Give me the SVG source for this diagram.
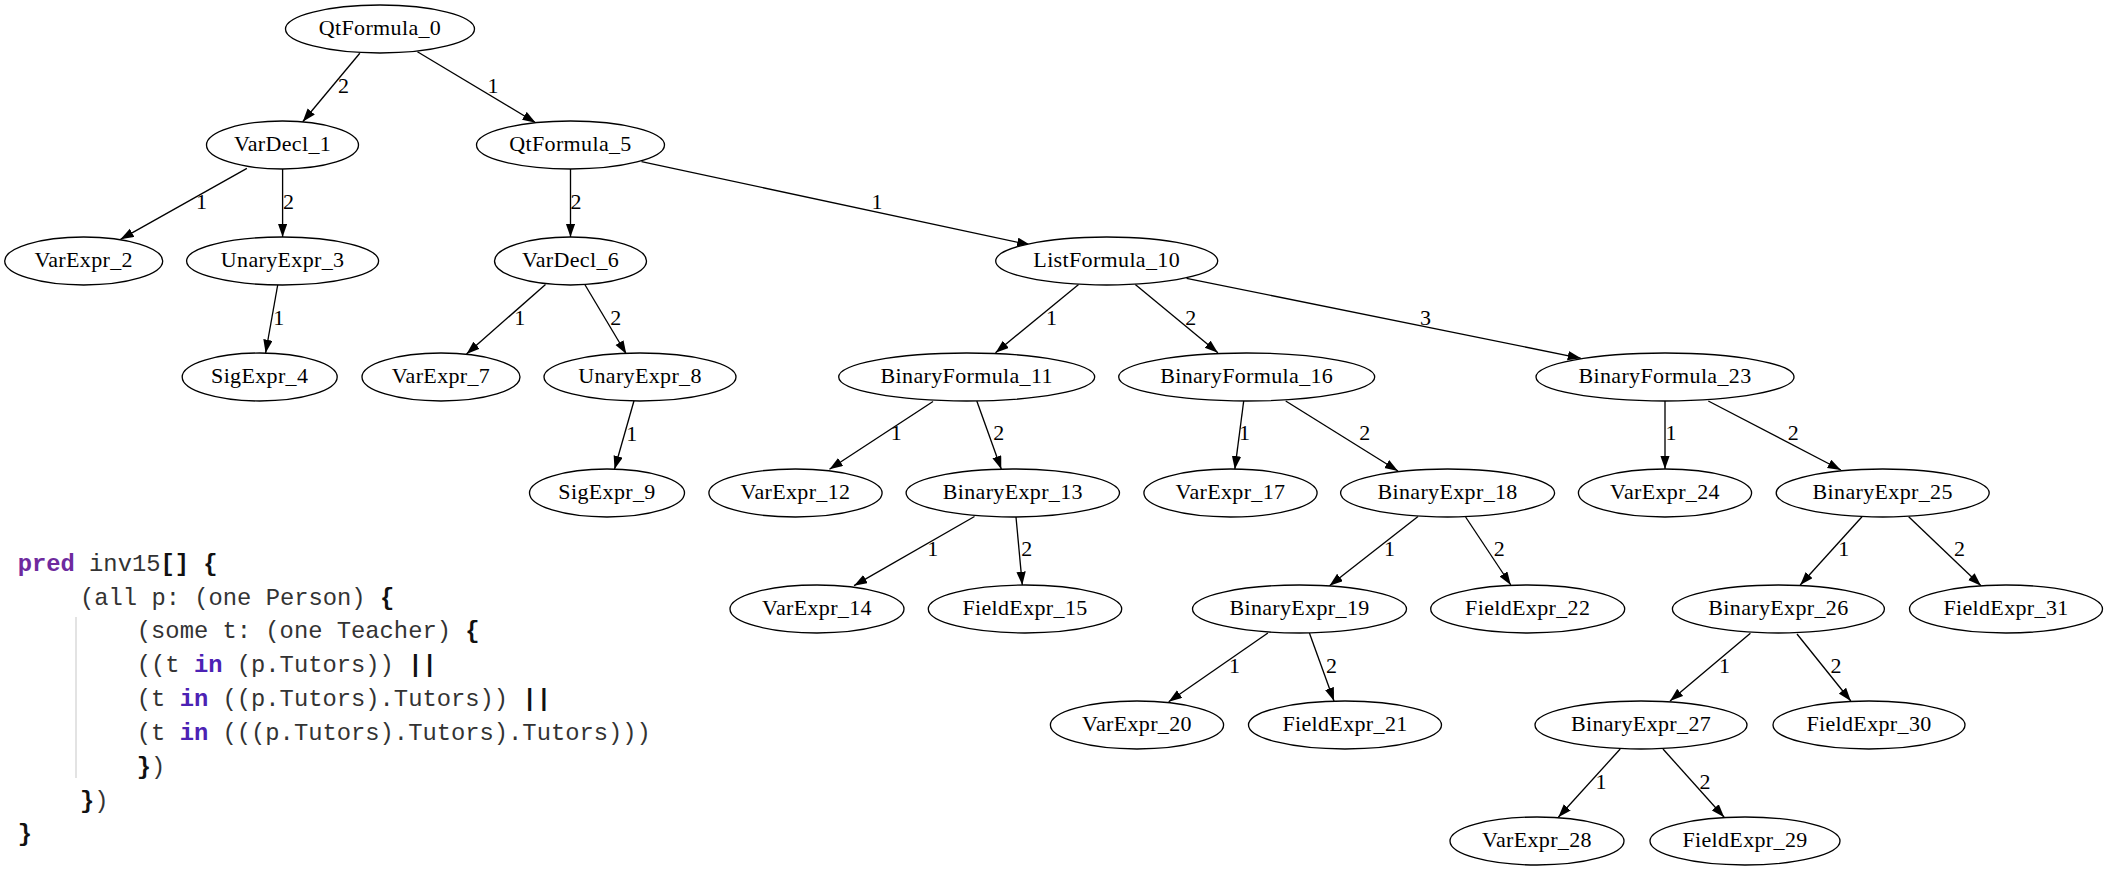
<svg xmlns="http://www.w3.org/2000/svg" width="2109" height="871" viewBox="0 0 2109 871">
<style>
.nd ellipse{fill:#fff;stroke:#000;stroke-width:1.33}
.nd text,.lb{font-family:"Liberation Serif","Times New Roman",serif;font-size:22px;letter-spacing:0.35px;fill:#000;text-anchor:middle}
.ed line{stroke:#000;stroke-width:1.33;marker-end:url(#ah)}
.code{font-family:"Liberation Mono","Courier New",monospace;font-size:23.8px;fill:#333}
.kw1{fill:#6e2a9e;font-weight:bold}
.kw2{fill:#4c22b4;font-weight:bold}
.br{font-weight:bold;fill:#111}
</style>
<defs>
<marker id="ah" markerUnits="userSpaceOnUse" markerWidth="14" markerHeight="10" refX="13.3" refY="4.67" orient="auto">
<path d="M0,0 L13.3,4.67 L0,9.33 z" fill="#000"/>
</marker>
</defs>
<rect width="2109" height="871" fill="#fff"/>
<g id="connectors" class="ed">
<line x1="359.8" y1="53.3" x2="302.7" y2="121.7"/>
<line x1="417.4" y1="51.7" x2="535.7" y2="122.7"/>
<line x1="246.9" y1="168.3" x2="120.5" y2="239.3"/>
<line x1="282.6" y1="169" x2="282.6" y2="237"/>
<line x1="277.7" y1="285" x2="265.6" y2="353"/>
<line x1="570.5" y1="169" x2="570.5" y2="237"/>
<line x1="641.5" y1="161.7" x2="1030.4" y2="245"/>
<line x1="545.5" y1="284.5" x2="466.5" y2="354"/>
<line x1="584.8" y1="284.5" x2="626.3" y2="354"/>
<line x1="1078.6" y1="284.5" x2="995.5" y2="352.7"/>
<line x1="1135.3" y1="284.5" x2="1217.9" y2="352.7"/>
<line x1="1186.6" y1="278.3" x2="1581" y2="358.3"/>
<line x1="634" y1="400.8" x2="614.5" y2="469.3"/>
<line x1="933" y1="401.5" x2="829.5" y2="469.3"/>
<line x1="976.8" y1="401" x2="1001.3" y2="469.3"/>
<line x1="1243.7" y1="401" x2="1234.8" y2="469.3"/>
<line x1="1285.7" y1="401" x2="1398" y2="471"/>
<line x1="974.5" y1="516.5" x2="854" y2="585.7"/>
<line x1="1016" y1="517" x2="1022.3" y2="585"/>
<line x1="1418" y1="516.5" x2="1329.5" y2="585.7"/>
<line x1="1465.6" y1="517" x2="1510.8" y2="585"/>
<line x1="1267.9" y1="633" x2="1168.7" y2="701.7"/>
<line x1="1309.4" y1="633" x2="1334" y2="701"/>
<line x1="1665" y1="401" x2="1665" y2="469"/>
<line x1="1708.3" y1="401" x2="1840.9" y2="470"/>
<line x1="1862" y1="516.7" x2="1800.2" y2="585"/>
<line x1="1908.7" y1="516.7" x2="1981" y2="585.7"/>
<line x1="1750.4" y1="633.3" x2="1670" y2="701"/>
<line x1="1797" y1="634" x2="1850.8" y2="701"/>
<line x1="1620.2" y1="749" x2="1558.3" y2="817.3"/>
<line x1="1663" y1="749" x2="1724.2" y2="817.3"/>
<g class="lbs">
<text class="lb" x="343.7" y="92.7">2</text>
<text class="lb" x="493.3" y="92.7">1</text>
<text class="lb" x="201.8" y="208.7">1</text>
<text class="lb" x="288.8" y="208.7">2</text>
<text class="lb" x="279" y="324.7">1</text>
<text class="lb" x="576.3" y="208.7">2</text>
<text class="lb" x="877.2" y="208.7">1</text>
<text class="lb" x="520" y="324.7">1</text>
<text class="lb" x="616" y="324.7">2</text>
<text class="lb" x="1051.8" y="324.7">1</text>
<text class="lb" x="1191" y="324.7">2</text>
<text class="lb" x="1425.8" y="324.7">3</text>
<text class="lb" x="632" y="441">1</text>
<text class="lb" x="896.4" y="440.3">1</text>
<text class="lb" x="999" y="440.3">2</text>
<text class="lb" x="1244.6" y="440.3">1</text>
<text class="lb" x="1365" y="440.3">2</text>
<text class="lb" x="933" y="556.3">1</text>
<text class="lb" x="1027" y="556.3">2</text>
<text class="lb" x="1389.7" y="556.3">1</text>
<text class="lb" x="1499.5" y="556.3">2</text>
<text class="lb" x="1234.8" y="672.7">1</text>
<text class="lb" x="1331.7" y="672.7">2</text>
<text class="lb" x="1671.3" y="440.3">1</text>
<text class="lb" x="1793.4" y="440.3">2</text>
<text class="lb" x="1844" y="556.3">1</text>
<text class="lb" x="1959.8" y="556.3">2</text>
<text class="lb" x="1724.7" y="672.7">1</text>
<text class="lb" x="1836.3" y="672.7">2</text>
<text class="lb" x="1601.2" y="788.7">1</text>
<text class="lb" x="1705.2" y="788.7">2</text>
</g>
</g>
<g id="QtFormula_0" class="nd"><ellipse cx="380" cy="29" rx="94.5" ry="24"/><text x="380" y="34.5">QtFormula_0</text></g>
<g id="VarDecl_1" class="nd"><ellipse cx="282.5" cy="145" rx="76" ry="24"/><text x="282.5" y="150.5">VarDecl_1</text></g>
<g id="QtFormula_5" class="nd"><ellipse cx="570.5" cy="145" rx="94" ry="24"/><text x="570.5" y="150.5">QtFormula_5</text></g>
<g id="VarExpr_2" class="nd"><ellipse cx="83.7" cy="261" rx="79" ry="24"/><text x="83.7" y="266.5">VarExpr_2</text></g>
<g id="UnaryExpr_3" class="nd"><ellipse cx="282.6" cy="261" rx="96" ry="24"/><text x="282.6" y="266.5">UnaryExpr_3</text></g>
<g id="VarDecl_6" class="nd"><ellipse cx="570.5" cy="261" rx="76" ry="24"/><text x="570.5" y="266.5">VarDecl_6</text></g>
<g id="ListFormula_10" class="nd"><ellipse cx="1106.7" cy="261" rx="111" ry="24"/><text x="1106.7" y="266.5">ListFormula_10</text></g>
<g id="SigExpr_4" class="nd"><ellipse cx="259.7" cy="377" rx="77.5" ry="24"/><text x="259.7" y="382.5">SigExpr_4</text></g>
<g id="VarExpr_7" class="nd"><ellipse cx="441" cy="377" rx="79" ry="24"/><text x="441" y="382.5">VarExpr_7</text></g>
<g id="UnaryExpr_8" class="nd"><ellipse cx="640" cy="377" rx="96" ry="24"/><text x="640" y="382.5">UnaryExpr_8</text></g>
<g id="BinaryFormula_11" class="nd"><ellipse cx="966.7" cy="377" rx="128" ry="24"/><text x="966.7" y="382.5">BinaryFormula_11</text></g>
<g id="BinaryFormula_16" class="nd"><ellipse cx="1246.7" cy="377" rx="128" ry="24"/><text x="1246.7" y="382.5">BinaryFormula_16</text></g>
<g id="BinaryFormula_23" class="nd"><ellipse cx="1665" cy="377" rx="129" ry="24"/><text x="1665" y="382.5">BinaryFormula_23</text></g>
<g id="SigExpr_9" class="nd"><ellipse cx="607" cy="493" rx="77.5" ry="24"/><text x="607" y="498.5">SigExpr_9</text></g>
<g id="VarExpr_12" class="nd"><ellipse cx="795.5" cy="493" rx="86.6" ry="24"/><text x="795.5" y="498.5">VarExpr_12</text></g>
<g id="BinaryExpr_13" class="nd"><ellipse cx="1012.8" cy="493" rx="106.7" ry="24"/><text x="1012.8" y="498.5">BinaryExpr_13</text></g>
<g id="VarExpr_17" class="nd"><ellipse cx="1230.5" cy="493" rx="86.6" ry="24"/><text x="1230.5" y="498.5">VarExpr_17</text></g>
<g id="BinaryExpr_18" class="nd"><ellipse cx="1447.6" cy="493" rx="107" ry="24"/><text x="1447.6" y="498.5">BinaryExpr_18</text></g>
<g id="VarExpr_24" class="nd"><ellipse cx="1665" cy="493" rx="86.6" ry="24"/><text x="1665" y="498.5">VarExpr_24</text></g>
<g id="BinaryExpr_25" class="nd"><ellipse cx="1882.7" cy="493" rx="106.5" ry="24"/><text x="1882.7" y="498.5">BinaryExpr_25</text></g>
<g id="VarExpr_14" class="nd"><ellipse cx="817" cy="609" rx="87" ry="24"/><text x="817" y="614.5">VarExpr_14</text></g>
<g id="FieldExpr_15" class="nd"><ellipse cx="1025" cy="609" rx="96.7" ry="24"/><text x="1025" y="614.5">FieldExpr_15</text></g>
<g id="BinaryExpr_19" class="nd"><ellipse cx="1299.5" cy="609" rx="107" ry="24"/><text x="1299.5" y="614.5">BinaryExpr_19</text></g>
<g id="FieldExpr_22" class="nd"><ellipse cx="1527.7" cy="609" rx="97" ry="24"/><text x="1527.7" y="614.5">FieldExpr_22</text></g>
<g id="BinaryExpr_26" class="nd"><ellipse cx="1778.4" cy="609" rx="106" ry="24"/><text x="1778.4" y="614.5">BinaryExpr_26</text></g>
<g id="FieldExpr_31" class="nd"><ellipse cx="2006" cy="609" rx="96.5" ry="24"/><text x="2006" y="614.5">FieldExpr_31</text></g>
<g id="VarExpr_20" class="nd"><ellipse cx="1137" cy="725" rx="86.6" ry="24"/><text x="1137" y="730.5">VarExpr_20</text></g>
<g id="FieldExpr_21" class="nd"><ellipse cx="1345" cy="725" rx="96.5" ry="24"/><text x="1345" y="730.5">FieldExpr_21</text></g>
<g id="BinaryExpr_27" class="nd"><ellipse cx="1641" cy="725" rx="106" ry="24"/><text x="1641" y="730.5">BinaryExpr_27</text></g>
<g id="FieldExpr_30" class="nd"><ellipse cx="1869" cy="725" rx="96" ry="24"/><text x="1869" y="730.5">FieldExpr_30</text></g>
<g id="VarExpr_28" class="nd"><ellipse cx="1537" cy="841" rx="87" ry="24"/><text x="1537" y="846.5">VarExpr_28</text></g>
<g id="FieldExpr_29" class="nd"><ellipse cx="1745" cy="841" rx="95" ry="24"/><text x="1745" y="846.5">FieldExpr_29</text></g>
<g id="code">
<line x1="76" y1="617" x2="76" y2="778" stroke="#d4d4d4" stroke-width="1.3"/>
<text class="code" xml:space="preserve"><tspan x="17.7" y="571"><tspan class="kw1">pred</tspan> inv15<tspan class="br">[]</tspan> <tspan class="br">{</tspan></tspan><tspan x="80" y="604.5">(all p: (one Person) <tspan class="br">{</tspan></tspan><tspan x="136.8" y="638">(some t: (one Teacher) <tspan class="br">{</tspan></tspan><tspan x="136.8" y="672">((t <tspan class="kw2">in</tspan> (p.Tutors)) <tspan class="br">||</tspan></tspan><tspan x="136.8" y="706">(t <tspan class="kw2">in</tspan> ((p.Tutors).Tutors)) <tspan class="br">||</tspan></tspan><tspan x="136.8" y="740">(t <tspan class="kw2">in</tspan> (((p.Tutors).Tutors).Tutors)))</tspan><tspan x="136.8" y="773.5"><tspan class="br">}</tspan>)</tspan><tspan x="80" y="807.5"><tspan class="br">}</tspan>)</tspan><tspan x="17.7" y="841"><tspan class="br">}</tspan></tspan></text>
</g>
</svg>
